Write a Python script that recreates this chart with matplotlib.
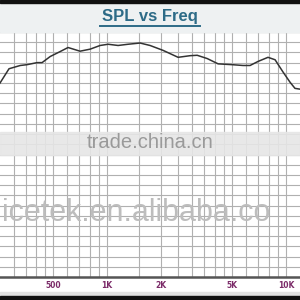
import matplotlib.pyplot as plt
from matplotlib.patches import Rectangle

# frequency response
freq = [252, 283, 327, 357, 406, 433, 481, 546, 605, 706, 804, 914, 1013, 1152,
        1310, 1528, 1738, 2055, 2494, 2911, 3187, 3625, 4172, 4993, 5751, 6295,
        6982, 7931, 8686, 9620, 10530, 11220, 11970]
spl = [87.5, 91.0, 91.8, 92.0, 92.5, 92.5, 94.0, 95.2, 96.2, 95.3, 95.8, 96.7,
       97.0, 96.7, 97.0, 97.3, 96.7, 95.5, 93.8, 94.2, 94.3, 93.5, 92.2, 92.0,
       91.8, 91.8, 92.8, 93.8, 93.2, 90.2, 87.7, 86.2, 86.0]

major_f = [500, 1000, 2000, 5000, 10000]
major_lab = ["500", "1K", "2K", "5K", "10K"]
grid_f = [300, 350, 400, 450, 500, 600, 700, 800, 900, 1000, 1500, 2000, 2500,
          3000, 3500, 4000, 4500, 5000, 6000, 7000, 8000, 9000, 10000]

fig = plt.figure(figsize=(3, 3), dpi=100)
fig.patch.set_facecolor("white")

# header and frame bars
fig.patches.append(Rectangle((0, 268/300), 1, 29/300, transform=fig.transFigure,
                             color="#eef1f2", zorder=0))
fig.patches.append(Rectangle((0, 297/300), 1, 3/300, transform=fig.transFigure,
                             color="#111111", zorder=0))
fig.patches.append(Rectangle((0, 4/300), 1, 4/300, transform=fig.transFigure,
                             color="#e2e2e2", zorder=0))
fig.patches.append(Rectangle((0, 0), 1, 4/300, transform=fig.transFigure,
                             color="#111111", zorder=0))

fig.text(0.5, 283/300, "SPL vs Freq", ha="center", va="center", fontsize=12,
         fontweight="bold", color="#2d6b87", family="Liberation Sans")
fig.add_artist(plt.Line2D([100/300, 200/300], [274.5/300, 274.5/300],
                          color="#2d6b87", lw=1.4))

ax = fig.add_axes([0, 23/300, 1, 245/300])
ax.set_xscale("log")
ax.set_xlim(252, 11970)
ax.set_ylim(40, 100)
ax.plot(freq, spl, color="#333333", lw=1.1, zorder=3)

ax.set_xticks(grid_f, minor=True)
ax.set_xticks(major_f, major_lab)
ax.tick_params(axis="x", which="both", length=0, pad=3)
ax.tick_params(axis="x", which="minor", labelbottom=False)
for t in ax.get_xticklabels():
    t.set_fontsize(5.5)
    t.set_fontweight("bold")
    t.set_color("#7b2a68")
ax.set_yticks([40 + 2.5 * i for i in range(25)])
ax.tick_params(axis="y", length=0, labelleft=False)
ax.grid(True, which="both", color="#b0b0b0", lw=0.8)
for s in ["left", "right"]:
    ax.spines[s].set_visible(False)
ax.spines["top"].set_color("#999999")
ax.spines["bottom"].set_color("#555555")
ax.spines["bottom"].set_linewidth(1.8)

# watermarks
fig.patches.append(Rectangle((0, 145/300), 1, 23/300, transform=fig.transFigure,
                             color="#e6e6e6", alpha=0.9, zorder=4))
fig.text(0.5, 157/300, "trade.china.cn", ha="center", va="center", fontsize=14.5,
         color="#9a9a9a", family="Liberation Sans", zorder=5)
fig.text(2/300, 87/300, "icetek.en.alibaba.co", ha="left", va="center",
         fontsize=22, color="#bdbdbd", family="Liberation Sans", zorder=5)

fig.savefig("out.png", dpi=100)
